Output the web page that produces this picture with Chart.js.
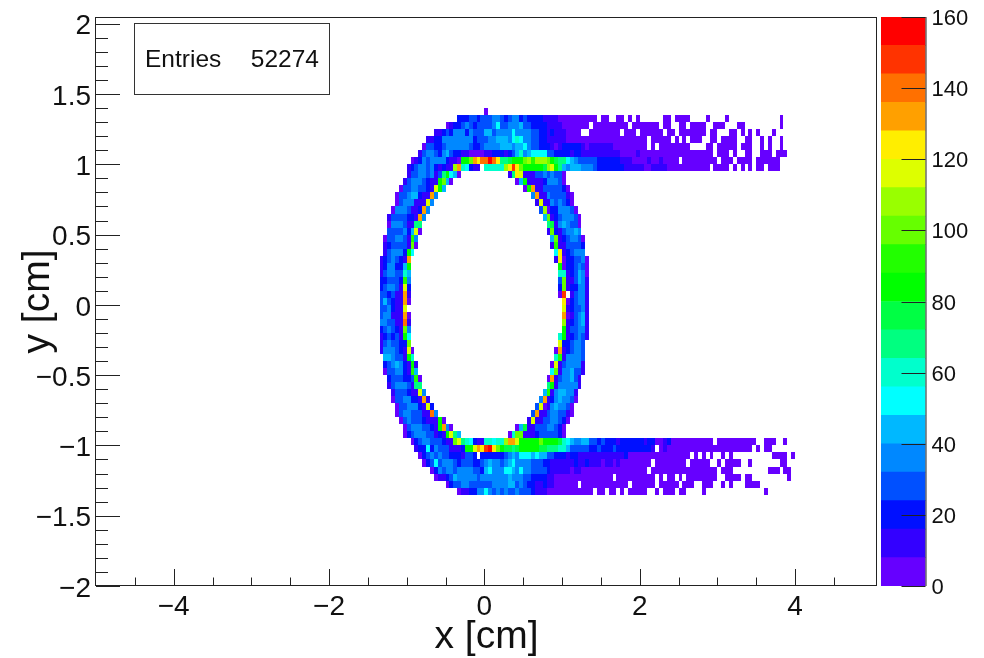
<!DOCTYPE html>
<html>
<head>
<meta charset="utf-8">
<title>x-y hit map</title>
<script src="https://cdn.jsdelivr.net/npm/chart.js@4/dist/chart.umd.js"></script>
<style>
  html, body { margin: 0; padding: 0; background: #fff; }
  #wrap { position: relative; width: 984px; height: 658px; overflow: hidden; }
  canvas { position: absolute; top: 0; }
  #map { left: 0; }
  #bar { left: 877px; }
</style>
</head>
<body>
<div id="wrap">
  <canvas id="map" width="984" height="658"></canvas>
  <canvas id="bar" width="107" height="658"></canvas>
</div>
<script>
// histogram bins, 0.05 cm square
var binSize = 0.05;
var firstBinX = -1.35;
var firstRowTopY = 1.4;

var xTicks = [-4, -2, 0, 2, 4];
var xMinorTicks = [-4.5, -3.5, -3, -2.5, -1.5, -1, -0.5, 0.5, 1, 1.5, 2.5, 3, 3.5, 4.5];
var yTicks = [-2, -1.5, -1, -0.5, 0, 0.5, 1, 1.5, 2];
var yMinorTicks = [-1.9, -1.8, -1.7, -1.6, -1.4, -1.3, -1.2, -1.1, -0.9, -0.8, -0.7, -0.6, -0.4, -0.3, -0.2, -0.1,
  0.1, 0.2, 0.3, 0.4, 0.6, 0.7, 0.8, 0.9, 1.1, 1.2, 1.3, 1.4, 1.6, 1.7, 1.8, 1.9];
var zTicks = [0, 20, 40, 60, 80, 100, 120, 140, 160];
var zBandWidth = 8;

var entriesLabel = 'Entries';
var entriesValue = '52274';

// one colour per 8 counts, bottom of the palette first
var bandColors = ['#6600ff', '#3300ff', '#0010ff', '#0050ff', '#0088ff', '#00b8ff', '#00ffff', '#00ffcc', '#00ff80', '#00ff44',
  '#00ff00', '#22ff00', '#66ff00', '#99ff00', '#ddff00', '#ffee00', '#ffa000', '#ff7000', '#ff3300', '#ff0000'];

// each char is a palette band (0-9, a-j), '.' is an empty bin, groups of ten columns
var cellRows = [
  '.......... .......... .......0',
  '.......... .......... 2223323334 4323442322 2211110000 000000.00. .00.0.0... ...00.0000 ....0....0 .......... ...0...',
  '.......... .......012 2343233334 6334445332 2221111000 0000.00000 0000.00000 00.00..00. 0000..000. ..00...... ...0...',
  '.......... ....112324 4424333553 4444644443 3221211100 00..000000 00.000.000 000.00.000 0000.00... 00.0.0.0.. .0.....',
  '.......... ..11224444 4444233344 5554676443 3221111100 0000000000 000000000. 00000.0.0. 000..00.00 00..00..0. 0..0...',
  '.......... .033223444 4443223444 4555455643 3222101222 2210111111 000000000. 0.00000000 ....00.000 00.000..0. 0..0...',
  '.......... 1344324532 2110000112 2212357456 6663322221 2211111111 1100001000 0000000000 000000.000 .0..00..00 0.000..',
  '........01 2434444211 0aacgfhhjh f889aaacdb dddca98865 4333332222 2211100001 0010000.00 0000000.00 0.0000.000 000....',
  '.......123 443421211d g76211.777 77dfifcaaa aa9dea8545 5544432222 2221111100 1111000000 00000.0000 .0.0.0.00. 000....',
  '.......133 4434138a65 0......... ...18fe111 33434330..',
  '......1344 43211ac50. .......... .....05a11 11244430..',
  '.....03344 3321ea5... .......... .......0ag 113333320.',
  '....033455 211g4..... .......... .........4 g114333310',
  '....034441 11e4...... .......... .......... 1e11434320',
  '...0444311 2g4....... .......... .......... .3d0224443 0',
  '..13333221 g4........ .......... .......... ..5c123444 30',
  '..04443118 8......... .......... .......... ...8914543 30',
  '..3333425e 0......... .......... .......... ...1c21344 54',
  '.0334431b4 .......... .......... .......... ....5c1234 430',
  '.1233331c0 .......... .......... .......... ....1b1133 332',
  '.134442a6. .......... .......... .......... .....6f123 444',
  '1234321g.. .......... .......... .......... .....1f022 3340',
  '1244225a.. .......... .......... .......... ......a022 3430',
  '13443375.. .......... .......... .......... ......7712 3540',
  '223332b4.. .......... .......... .......... ......3c11 3541',
  '234431e2.. .......... .......... .......... ......2c12 2441',
  '332311g1.. .......... .......... .......... ......0i.1 3441',
  '353211g0.. .......... .......... .......... .......f02 3441',
  '334211e... .......... .......... .......... .......e12 3341',
  '344111g0.. .......... .......... .......... .......g01 3451',
  '443311h1.. .......... .......... .......... .......d12 3451',
  '234321c4.. .......... .......... .......... .......a13 3441',
  '123231a6.. .......... .......... .......... ......7a12 3431',
  '1343322c.. .......... .......... .......... ......e223 443',
  '1444321e0. .......... .......... .......... .....0g123 443',
  '.554331a7. .......... .......... .......... .....7b144 443',
  '.2345421a1 .......... .......... .......... ....0e1344 441',
  '.0334421b5 .......... .......... .......... ....6c1445 331',
  '..2333223b 0......... .......... .......... ...0g13445 31',
  '..13444318 8......... .......... .......... ...8a14444 41',
  '...1333211 e4........ .......... .......... ..5b145544 1',
  '...0334422 1g1....... .......... .......... .4g1245443 0',
  '....033444 21e2...... .......... .......... 3e01454430',
  '....034433 311h4..... .......... .........3 g113443310',
  '.....03433 32111a0... .......... ........1e 113344320.',
  '......0344 43321ag40. .......... .....05911 33344320..',
  '......0234 4433121ae8 5......... ...07cc111 23333320..',
  '........02 344333211c e876211776 77dggeaaaa acaaaa9765 4455332322 2122222212 2001200000 000000.000 0000000..0 00..0..',
  '.........1 2262433311 12aaegfijf ca9989aaaa a998887753 3333223222 3222222222 1.01000000 0000000000 000000.0.0 0......',
  '.......... 0234343322 21332.2222 2234546665 6553322212 2111111111 1112000000 0000000000 .0.0.0..0. 0......... .0000.0',
  '.......... .023634443 2333223454 4345644443 3322111111 2112111011 0100000000 .00000000. 00000..0.0 000..0.... ...00..',
  '.......... ...0243443 4444332564 4466546443 3332111110 1100000000 000000000. 0000000000 0000000.00 0......... 000.00.',
  '.......... ....011235 4444434444 4445444332 2221100000 0000000000 .000000000 0.0.00.0.0 0000000..0 000.00.... .....0.',
  '.......... .......023 3443333334 4445534322 1121100000 0.00000000 0000.00000 0.00000.00 0..000..0. 0...0000..',
  '.......... .......... 0112244643 4343343332 1110000000 00000.00.0 0.0.00000. .0.000.00. ...0...... .........0'
];

// band char -> count at the middle of that band
function bandToCount(ch) {
  return parseInt(ch, 20) * zBandWidth + zBandWidth / 2;
}

var cells = [];
cellRows.forEach(function (row, r) {
  var chars = row.replace(/ /g, '');
  for (var c = 0; c < chars.length; c++) {
    if (chars[c] === '.') continue;
    cells.push({
      x: firstBinX + c * binSize,
      y: firstRowTopY - (r + 1) * binSize,
      v: bandToCount(chars[c])
    });
  }
});

// scatter parsing and scales, but each point is filled as a whole bin
class CellController extends Chart.ScatterController {
  draw() {
    var meta = this.getMeta();
    var ctx = this.chart.ctx;
    var xs = meta.xScale;
    var ys = meta.yScale;
    this.getDataset().data.forEach(function (p) {
      var x0 = Math.round(xs.getPixelForValue(p.x));
      var x1 = Math.round(xs.getPixelForValue(p.x + binSize));
      var y0 = Math.round(ys.getPixelForValue(p.y + binSize));
      var y1 = Math.round(ys.getPixelForValue(p.y));
      ctx.fillStyle = bandColors[Math.floor(p.v / zBandWidth)];
      ctx.fillRect(x0, y0, x1 - x0, y1 - y0);
    });
  }
}
CellController.id = 'cell';
CellController.defaults = Chart.ScatterController.defaults;
Chart.register(CellController);

var frameColor = '#222';

function minusSign(value) {
  return String(value).replace('-', '\u2212');
}

// tick labels must not push the plot area in
function noLabelMargins(scale) {
  scale.paddingTop = 0;
  scale.paddingBottom = 0;
  scale.paddingLeft = 0;
  scale.paddingRight = 0;
}

// ROOT centres its labels a little under the tick
function nudgeLabels(scale, dy) {
  if (scale.labelsNudged) return;
  scale.labelsNudged = true;
  var compute = scale._computeLabelItems;
  scale._computeLabelItems = function (area) {
    var items = compute.call(this, area);
    items.forEach(function (item) { item.textOffset += dy; });
    return items;
  };
}

// ROOT style frame: ticks grow inward, majors are twice the minors
var rootFrame = {
  id: 'rootFrame',
  afterDraw: function (chart) {
    var ctx = chart.ctx;
    var area = chart.chartArea;
    var xs = chart.scales.x;
    var ys = chart.scales.y;
    ctx.save();
    ctx.strokeStyle = frameColor;
    ctx.lineWidth = 1;
    ctx.beginPath();
    function xTick(v, len) {
      var px = Math.round(xs.getPixelForValue(v)) + 0.5;
      ctx.moveTo(px, area.bottom);
      ctx.lineTo(px, area.bottom - len);
    }
    function yTick(v, len) {
      var py = Math.round(ys.getPixelForValue(v)) + 0.5;
      ctx.moveTo(area.left, py);
      ctx.lineTo(area.left + len, py);
    }
    xTicks.forEach(function (v) { xTick(v, 17); });
    xMinorTicks.forEach(function (v) { xTick(v, 8.5); });
    yTicks.forEach(function (v) { yTick(v, 24); });
    yMinorTicks.forEach(function (v) { yTick(v, 12); });
    ctx.stroke();
    ctx.strokeRect(Math.round(area.left) - 0.5, Math.round(area.top) + 0.5,
      Math.round(area.right - area.left), Math.round(area.bottom - area.top) - 1);

    // stats box
    ctx.fillStyle = '#fff';
    ctx.strokeStyle = '#333';
    ctx.fillRect(134.5, 23.5, 195, 71);
    ctx.strokeRect(134.5, 23.5, 195, 71);
    ctx.fillStyle = '#111';
    ctx.font = '24.5px "Liberation Sans"';
    ctx.textBaseline = 'middle';
    ctx.textAlign = 'left';
    ctx.fillText(entriesLabel, 145, 60.5);
    ctx.textAlign = 'right';
    ctx.fillText(entriesValue, 319, 60.5);
    ctx.restore();
  }
};

var mapChart = new Chart(document.getElementById('map').getContext('2d'), {
  type: 'cell',
  data: {
    datasets: [{ label: 'hits', data: cells }]
  },
  options: {
    responsive: false,
    animation: false,
    events: [],
    layout: { padding: { top: 17, right: 107, left: 0, bottom: 0 } },
    plugins: { legend: { display: false }, tooltip: { enabled: false } },
    scales: {
      x: {
        type: 'linear',
        min: -5,
        max: 5.055,
        afterFit: function (scale) { scale.height = 72; noLabelMargins(scale); },
        grid: { display: false, drawTicks: false },
        border: { display: false },
        ticks: {
          stepSize: 2,
          includeBounds: false,
          autoSkip: false,
          maxRotation: 0,
          padding: 4,
          color: '#111',
          font: { family: 'Liberation Sans', size: 28 },
          callback: minusSign
        },
        title: {
          display: true,
          text: 'x [cm]',
          color: '#111',
          font: { family: 'Liberation Sans', size: 39 },
          padding: { top: 0, bottom: -3 }
        }
      },
      y: {
        type: 'linear',
        min: -2,
        max: 2.048,
        afterFit: function (scale) { scale.width = 96; noLabelMargins(scale); nudgeLabels(scale, 3); },
        grid: { display: false, drawTicks: false },
        border: { display: false },
        ticks: {
          stepSize: 0.5,
          includeBounds: false,
          autoSkip: false,
          padding: 5,
          color: '#111',
          font: { family: 'Liberation Sans', size: 28 },
          callback: minusSign
        },
        title: {
          display: true,
          text: 'y [cm]',
          color: '#111',
          font: { family: 'Liberation Sans', size: 39 },
          padding: { top: 15, bottom: 0 }
        }
      }
    }
  },
  plugins: [rootFrame]
});

// colour scale on its own small canvas
var barFrame = {
  id: 'barFrame',
  afterDraw: function (chart) {
    var ctx = chart.ctx;
    var area = chart.chartArea;
    var ys = chart.scales.y;
    ctx.save();
    ctx.strokeStyle = frameColor;
    ctx.lineWidth = 1;
    ctx.beginPath();
    ctx.moveTo(area.right + 0.5, area.top);
    ctx.lineTo(area.right + 0.5, area.bottom);
    zTicks.forEach(function (v) {
      var py = Math.round(ys.getPixelForValue(v)) + 0.5;
      ctx.moveTo(area.right, py);
      ctx.lineTo(area.right - 24, py);
    });
    ctx.stroke();
    ctx.restore();
  }
};

var barChart = new Chart(document.getElementById('bar').getContext('2d'), {
  type: 'bar',
  data: {
    labels: ['z'],
    datasets: bandColors.map(function (color) {
      return {
        data: [zBandWidth],
        backgroundColor: color,
        categoryPercentage: 1,
        barPercentage: 1
      };
    })
  },
  options: {
    responsive: false,
    animation: false,
    events: [],
    layout: { padding: { top: 17, right: 0, left: 4, bottom: 72 } },
    plugins: { legend: { display: false }, tooltip: { enabled: false } },
    scales: {
      x: { stacked: true, display: false },
      y: {
        stacked: true,
        position: 'right',
        min: 0,
        max: 160,
        afterFit: function (scale) { scale.width = 58.5; noLabelMargins(scale); nudgeLabels(scale, 2); },
        grid: { display: false, drawTicks: false },
        border: { display: false },
        ticks: {
          stepSize: 20,
          padding: 6,
          color: '#111',
          font: { family: 'Liberation Sans', size: 22 }
        }
      }
    }
  },
  plugins: [barFrame]
});
</script>
</body>
</html>
